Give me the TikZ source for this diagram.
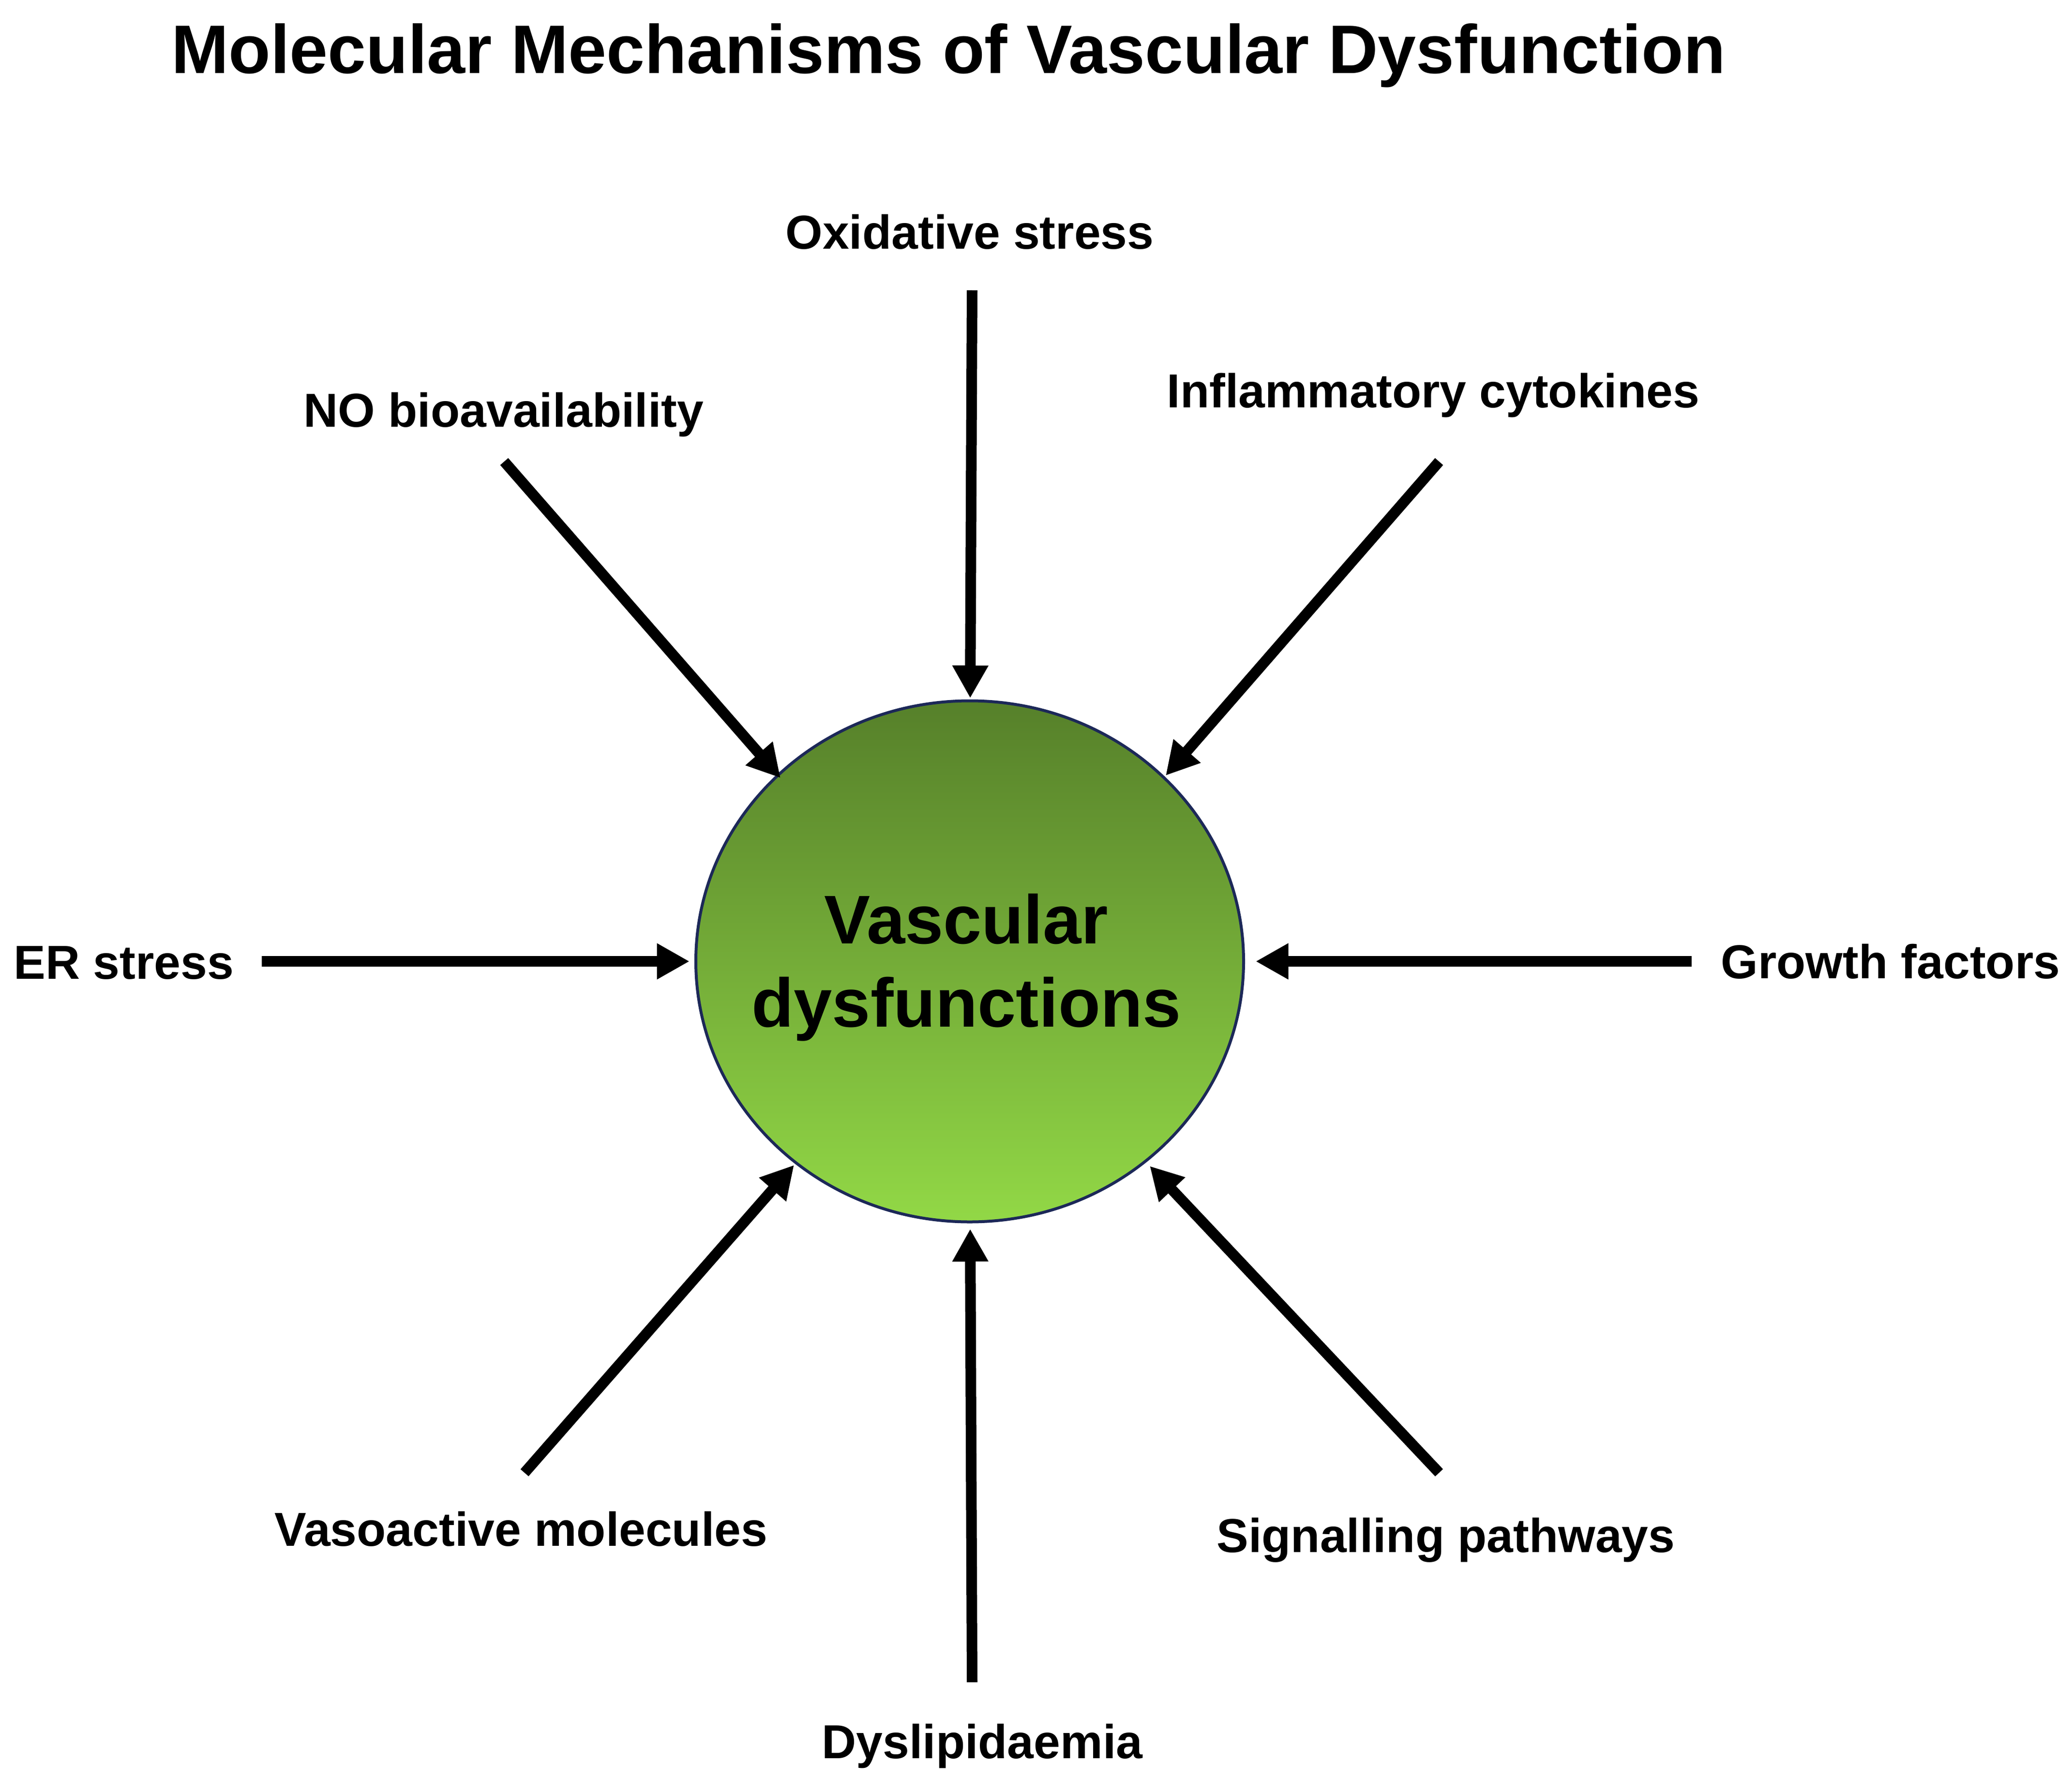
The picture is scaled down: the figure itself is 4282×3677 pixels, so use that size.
\documentclass[tikz,border=0pt]{standalone}
\usepackage{fontspec}
\setmainfont{Liberation Sans}
\usetikzlibrary{arrows.meta,shapes.geometric}
\definecolor{gtop}{RGB}{86,128,42}
\definecolor{gbot}{RGB}{146,216,70}
\definecolor{rim}{RGB}{28,40,88}
\begin{document}
\begin{tikzpicture}[x=0.2pt,y=-0.2pt,
  lbl/.style={font=\fontsize{19.7pt}{23pt}\selectfont\bfseries, inner sep=0pt, anchor=base},
  arr/.style={line width=4.4pt, -{Triangle[length=13.5pt,width=14pt]}}]
\useasboundingbox (0,0) rectangle (4282,3677);
% title
\node[font=\fontsize{28.4pt}{34pt}\selectfont\bfseries, anchor=base, inner sep=0pt] (title) at (1960,152) {Molecular Mechanisms of Vascular Dysfunction};
% central ellipse
\node[ellipse, draw=rim, line width=1.2pt, top color=gtop, bottom color=gbot,
      minimum width=226.4pt, minimum height=215.4pt, inner sep=0pt] (vc) at (2004,1987) {};
\node[font=\fontsize{28.5pt}{34.4pt}\selectfont\bfseries, align=center, inner sep=0pt] (vctext) at (1997,2000) {Vascular\\dysfunctions};
% labels
\node[lbl] (ox) at (2004,514) {Oxidative stress};
\node[lbl] (no) at (1041,882) {NO bioavailability};
\node[lbl] (ic) at (2962,842) {Inflammatory cytokines};
\node[lbl] (er) at (256,2023) {ER stress};
\node[lbl] (gf) at (3907,2022) {Growth factors};
\node[lbl] (va) at (1077,3195) {Vasoactive molecules};
\node[lbl] (dl) at (2030,3634) {Dyslipidaemia};
\node[lbl] (sp) at (2988,3208) {Signalling pathways};
% arrow ends
\coordinate (oxs) at (2009,600);   \coordinate (oxt) at (2005,1443);
\coordinate (nos) at (1042,954);   \coordinate (not) at (1613,1608);
\coordinate (ics) at (2974,954);   \coordinate (ict) at (2409,1603);
\coordinate (ers) at (541,1987);   \coordinate (ert) at (1425,1987);
\coordinate (gfs) at (3496,1987);  \coordinate (gft) at (2595,1987);
\coordinate (vas) at (1084,3044);  \coordinate (vat) at (1641,2408);
\coordinate (dls) at (2009,3477);  \coordinate (dlt) at (2005,2540);
\coordinate (sps) at (2974,3044);  \coordinate (spt) at (2376,2410);
% arrows
\draw[arr] (oxs) -- (oxt);
\draw[arr] (nos) -- (not);
\draw[arr] (ics) -- (ict);
\draw[arr] (ers) -- (ert);
\draw[arr] (gfs) -- (gft);
\draw[arr] (vas) -- (vat);
\draw[arr] (dls) -- (dlt);
\draw[arr] (sps) -- (spt);
\end{tikzpicture}
\end{document}
